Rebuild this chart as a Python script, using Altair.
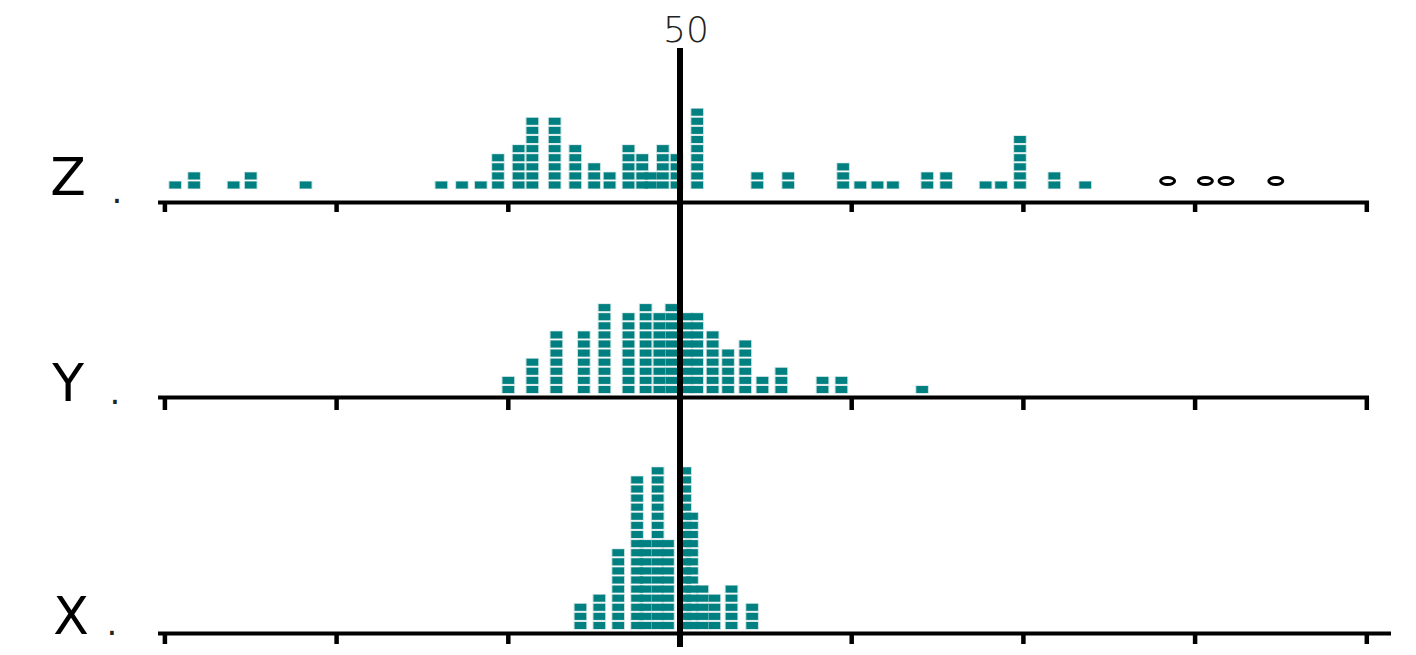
import altair as alt
import pandas as pd

# ---------------- data ----------------
tick_values = [20, 30, 40, 50, 60, 70, 80, 90]
center_value = 50
center_label = "50"
row_names = ["Z", "Y", "X"]

# Z row: column positions (axis units) and number of stacked dots
z_pos = [20.6, 21.7, 24.0, 25.0, 28.2, 36.1, 37.3, 38.4, 39.4, 40.6, 41.4, 42.7,
         43.9, 45.0, 45.9, 47.0, 47.8, 48.3, 49.0, 49.8, 51.0, 54.5, 56.3, 59.5,
         60.5, 61.5, 62.4, 64.4, 65.5, 67.8, 68.7, 69.8, 71.8, 73.6]
z_cnt = [1, 2, 1, 2, 1, 1, 1, 1, 4, 5, 8, 8,
         5, 3, 2, 5, 4, 2, 5, 4, 9, 2, 2, 3,
         1, 1, 1, 2, 2, 1, 1, 6, 2, 1]
z_outliers = [78.4, 80.6, 81.8, 84.7]

# Y row
y_pos = [40.0, 41.4, 42.8, 44.4, 45.6, 47.0, 48.0, 48.8, 49.5, 50.4, 51.0, 51.9,
         52.8, 53.8, 54.8, 55.9, 58.3, 59.4, 64.1]
y_cnt = [2, 4, 7, 7, 10, 9, 10, 9, 10, 9, 9, 7,
         5, 6, 2, 3, 2, 2, 1]

# X row
x_pos = [44.2, 45.3, 46.4, 47.5, 48.0, 48.7, 49.3, 50.3, 50.7, 51.3, 52.0, 53.0, 54.2]
x_cnt = [3, 4, 9, 17, 10, 18, 10, 18, 13, 5, 4, 5, 3]

# ---------------- layout ----------------
W, H = 1400, 639
PX_PER_UNIT = 17.17
CENTER_PX = 672.0
x_lo = center_value - CENTER_PX / PX_PER_UNIT
x_hi = center_value + (W - CENTER_PX) / PX_PER_UNIT

STEP = 9.1                      # vertical pitch of stacked dots
row_layout = {                  # bottom-dot y, axis-line y, tick bottom, axis end
    "Z": dict(base=177.0, line=194.5, tick=204.0, end=90.13),
    "Y": dict(base=381.5, line=389.5, tick=402.0, end=90.13),
    "X": dict(base=617.5, line=625.5, tick=636.0, end=91.41),
}
axis_start = 19.6
TEAL = "#008080"

series = {"Z": (z_pos, z_cnt), "Y": (y_pos, y_cnt), "X": (x_pos, x_cnt)}

dot_rows = []
for r in row_names:
    pos, cnt = series[r]
    for v, n in zip(pos, cnt):
        for k in range(n):
            dot_rows.append({"row": r, "v": v, "y": row_layout[r]["base"] - k * STEP})
dots_df = pd.DataFrame(dot_rows)

out_df = pd.DataFrame({"v": z_outliers, "y": [row_layout["Z"]["base"] - 4] * len(z_outliers)})

axis_df = pd.DataFrame([
    {"v0": axis_start, "v1": row_layout[r]["end"], "y": row_layout[r]["line"]}
    for r in row_names
])
tick_df = pd.DataFrame([
    {"v": t, "y0": row_layout[r]["line"], "y1": row_layout[r]["tick"]}
    for r in row_names for t in tick_values
])
vline_df = pd.DataFrame({"v": [center_value], "y0": [40.0], "y1": [float(H)]})

xs = alt.Scale(domain=[x_lo, x_hi], nice=False, zero=False)
ys = alt.Scale(domain=[0, H], nice=False, zero=False, reverse=True)

rect_shape = "M-1,-0.6L1,-0.6L1,0.6L-1,0.6Z"
oval_shape = "M-1,0A1,0.5 0 1,0 1,0A1,0.5 0 1,0 -1,0Z"

# soft halo behind each dot, then the solid dot
halo = alt.Chart(dots_df).mark_point(
    shape=rect_shape, filled=True, size=185, color="#a9cfcf", opacity=0.7
).encode(
    x=alt.X("v:Q", scale=xs, axis=None),
    y=alt.Y("y:Q", scale=ys, axis=None),
)

dots = alt.Chart(dots_df).mark_point(
    shape=rect_shape, filled=True, size=135, color=TEAL, opacity=1
).encode(
    x=alt.X("v:Q", scale=xs, axis=None),
    y=alt.Y("y:Q", scale=ys, axis=None),
)

outliers = alt.Chart(out_df).mark_point(
    shape=oval_shape, filled=True, size=196, fill="white",
    stroke="black", strokeWidth=3, opacity=1
).encode(
    x=alt.X("v:Q", scale=xs, axis=None),
    y=alt.Y("y:Q", scale=ys, axis=None),
)

axis_lines = alt.Chart(axis_df).mark_rule(color="black", strokeWidth=4, strokeCap="butt").encode(
    x=alt.X("v0:Q", scale=xs, axis=None),
    x2="v1:Q",
    y=alt.Y("y:Q", scale=ys, axis=None),
)

ticks = alt.Chart(tick_df).mark_rule(color="black", strokeWidth=4.5, strokeCap="butt").encode(
    x=alt.X("v:Q", scale=xs, axis=None),
    y=alt.Y("y0:Q", scale=ys, axis=None),
    y2="y1:Q",
)

vline = alt.Chart(vline_df).mark_rule(color="black", strokeWidth=6, strokeCap="butt").encode(
    x=alt.X("v:Q", scale=xs, axis=None),
    y=alt.Y("y0:Q", scale=ys, axis=None),
    y2="y1:Q",
)

top_label = alt.Chart(pd.DataFrame({"t": [center_label]})).mark_text(
    font="DejaVu Sans", fontSize=36, fontWeight=300, color="#222222",
    align="center", baseline="alphabetic"
).encode(x=alt.value(678), y=alt.value(34), text="t:N")

label_df = pd.DataFrame({
    "t": row_names,
    "px": [60, 60, 63],
    "py": [171, 377, 610],
})
row_labels = alt.Chart(label_df).mark_text(
    font="DejaVu Sans", fontSize=52, color="black", align="center", baseline="middle"
).encode(
    x=alt.X("px:Q", scale=None), y=alt.Y("py:Q", scale=None), text="t:N"
)

period_df = pd.DataFrame({
    "t": [".", ".", "."],
    "px": [109, 107, 104],
    "py": [195, 396, 627],
})
periods = alt.Chart(period_df).mark_text(
    font="DejaVu Sans", fontSize=34, color="#222222", align="center", baseline="alphabetic"
).encode(
    x=alt.X("px:Q", scale=None), y=alt.Y("py:Q", scale=None), text="t:N"
)

chart = alt.layer(
    halo, dots, outliers, axis_lines, ticks, vline, top_label, row_labels, periods
).properties(
    width=W, height=H, padding=0, autosize=alt.AutoSizeParams(type="none")
).configure_view(stroke=None)

chart.save("out.html", embed_options={"renderer": "svg", "actions": False})
